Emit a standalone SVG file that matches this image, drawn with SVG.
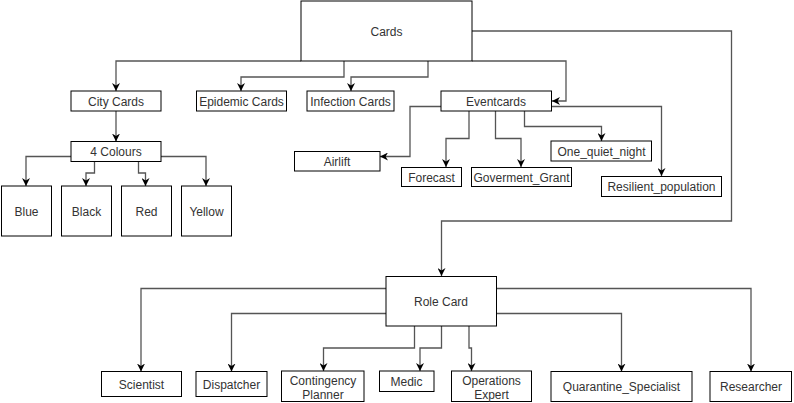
<svg xmlns="http://www.w3.org/2000/svg" width="794" height="403" viewBox="0 0 794 403">
<defs>
<marker id="arr" viewBox="0 0 10 10" refX="10" refY="5" markerWidth="8" markerHeight="8" markerUnits="userSpaceOnUse" orient="auto">
<path d="M10,5 L0,0 L3,5 L0,10 Z" fill="#000"/>
</marker>
<style>
.n rect{fill:#fff;stroke:#000;stroke-width:1}
.n text{font-family:"Liberation Sans",Arial,Helvetica,sans-serif;font-size:12px;fill:#333;text-anchor:middle;dominant-baseline:central}
#edges path{fill:none;stroke:#555;stroke-width:1.3;marker-end:url(#arr)}
</style>
</defs>
<rect width="794" height="403" fill="#fff"/>
<g id="edges">
<path d="M301,61 H116 V91"/>
<path d="M344,61 V77 H241 V91"/>
<path d="M428,61 V77 H351 V91"/>
<path d="M472,61 H566 V101 H552"/>
<path d="M472,31 H731.5 V221 H441.5 V276"/>
<path d="M116,111 V141.5"/>
<path d="M71,156.5 H26 V186"/>
<path d="M94.5,161.5 V173 H86 V186"/>
<path d="M138.5,161.5 V173 H145.5 V186"/>
<path d="M161,156.5 H206 V186"/>
<path d="M441,106.5 H410 V156.5 H380"/>
<path d="M469,111 V138.5 H446 V167"/>
<path d="M495.5,111 V138.5 H521 V167"/>
<path d="M524.5,111 V126.5 H601.5 V141"/>
<path d="M551,106.5 H661.5 V176"/>
<path d="M386,288.5 H141 V371.5"/>
<path d="M386,313.5 H231.5 V371.5"/>
<path d="M414.5,326 V348 H323.5 V371"/>
<path d="M441.5,326 V348 H420 V371"/>
<path d="M469,326 V348 H471.5 V371"/>
<path d="M496,313.5 H621.5 V371.5"/>
<path d="M496,288.5 H751 V371.5"/>
</g>
<g id="cards" class="n"><rect x="301" y="1" width="171" height="60"/><text x="386.5" y="32">Cards</text></g>
<g id="city" class="n"><rect x="71" y="91" width="90" height="20"/><text x="116" y="101.5">City Cards</text></g>
<g id="epidemic" class="n"><rect x="196.5" y="91" width="90" height="20"/><text x="241.5" y="101.5">Epidemic Cards</text></g>
<g id="infection" class="n"><rect x="307" y="91" width="87" height="20"/><text x="350.5" y="101.5">Infection Cards</text></g>
<g id="eventcards" class="n"><rect x="441" y="91" width="110.5" height="20"/><text x="496" y="101.5">Eventcards</text></g>
<g id="colours" class="n"><rect x="71" y="141.5" width="90" height="20"/><text x="116" y="152">4 Colours</text></g>
<g id="blue" class="n"><rect x="1.5" y="186" width="50" height="50"/><text x="26.5" y="212">Blue</text></g>
<g id="black" class="n"><rect x="61.5" y="186" width="50" height="50"/><text x="86.5" y="212">Black</text></g>
<g id="red" class="n"><rect x="121.5" y="186" width="50" height="50"/><text x="146.5" y="212">Red</text></g>
<g id="yellow" class="n"><rect x="181.5" y="186" width="50" height="50"/><text x="206.5" y="212">Yellow</text></g>
<g id="airlift" class="n"><rect x="294.5" y="151.5" width="85.5" height="19.5"/><text x="337" y="161.5">Airlift</text></g>
<g id="forecast" class="n"><rect x="401.5" y="167.5" width="60" height="19"/><text x="431.5" y="177.5">Forecast</text></g>
<g id="grant" class="n"><rect x="471.5" y="167.5" width="100" height="19"/><text x="521.5" y="177.5">Goverment_Grant</text></g>
<g id="quiet" class="n"><rect x="551" y="141" width="100.5" height="20"/><text x="601.5" y="151.5">One_quiet_night</text></g>
<g id="resilient" class="n"><rect x="601.5" y="176.5" width="120" height="20"/><text x="661.5" y="187">Resilient_population</text></g>
<g id="role" class="n"><rect x="386" y="276.5" width="110.5" height="49.5"/><text x="441" y="302">Role Card</text></g>
<g id="scientist" class="n"><rect x="101.5" y="371.5" width="80" height="25"/><text x="141.5" y="384.5">Scientist</text></g>
<g id="dispatcher" class="n"><rect x="196" y="371.5" width="71" height="25"/><text x="231.5" y="384.5">Dispatcher</text></g>
<g id="contingency" class="n"><rect x="281.5" y="371" width="82.5" height="30.5"/><text x="323" y="380.5">Contingency</text><text x="323" y="394.5">Planner</text></g>
<g id="medic" class="n"><rect x="379.5" y="371" width="54.5" height="20.5"/><text x="406.5" y="382">Medic</text></g>
<g id="operations" class="n"><rect x="451.5" y="371" width="80" height="30.5"/><text x="491.5" y="380.5">Operations</text><text x="491.5" y="394.5">Expert</text></g>
<g id="quarantine" class="n"><rect x="551" y="371.5" width="141" height="30"/><text x="621.5" y="386.5">Quarantine_Specialist</text></g>
<g id="researcher" class="n"><rect x="710" y="371.5" width="81.5" height="30"/><text x="751" y="386.5">Researcher</text></g>
</svg>
